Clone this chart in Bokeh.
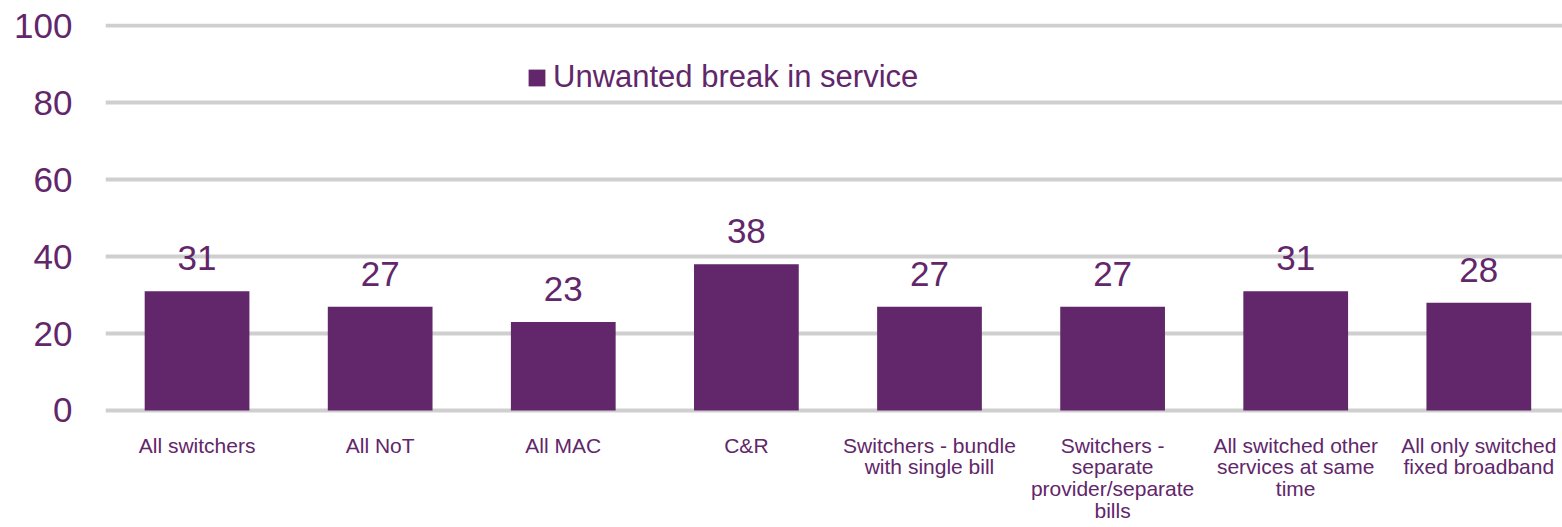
from bokeh.plotting import figure
from bokeh.models import Range1d, FixedTicker, ColumnDataSource, LabelSet, Legend, LegendItem
from bokeh.core.properties import value
from bokeh.embed import file_html
from bokeh.resources import INLINE

categories = ["All switchers", "All NoT", "All MAC", "C&R",
              "Switchers - bundle\nwith single bill",
              "Switchers -\nseparate\nprovider/separate\nbills",
              "All switched other\nservices at same\ntime",
              "All only switched\nfixed broadband"]
values = [31, 27, 23, 38, 27, 27, 31, 28]
series_name = "Unwanted break in service"
y_ticks = [0, 20, 40, 60, 80, 100]

PURPLE = "#62266A"
FONT = "Liberation Sans"

xs = list(range(len(categories)))
src = ColumnDataSource(dict(x=xs, top=values, lab=[str(v) for v in values]))

p = figure(frame_width=1457, frame_height=390, output_backend="svg", toolbar_location=None,
           x_range=Range1d(-0.5, 7.457), y_range=Range1d(-0.8, 100.65),
           min_border_left=105, min_border_right=0, min_border_top=23,
           min_border_bottom=114)
p.outline_line_color = None
p.background_fill_color = "white"
p.border_fill_color = "white"

r = p.vbar(x="x", top="top", bottom=0, width=0.572, source=src,
           fill_color=PURPLE, line_color=None)

labels = LabelSet(x="x", y="top", text="lab", source=src, text_align="center",
                  text_baseline="alphabetic", y_offset=21,
                  text_font=value(FONT), text_font_size="35px", text_color=PURPLE)
p.add_layout(labels)

p.xgrid.grid_line_color = None
p.ygrid.grid_line_color = "#CFCFCF"
p.ygrid.grid_line_width = 4
p.ygrid.ticker = FixedTicker(ticks=y_ticks)

p.yaxis.ticker = FixedTicker(ticks=y_ticks)
p.yaxis.axis_line_color = None
p.yaxis.major_tick_line_color = None
p.yaxis.minor_tick_line_color = None
p.yaxis.major_tick_out = 0
p.yaxis.major_tick_in = 0
p.yaxis.major_label_standoff = 33
p.yaxis.major_label_text_font = FONT
p.yaxis.major_label_text_font_size = "35px"
p.yaxis.major_label_text_color = PURPLE

p.xaxis.ticker = FixedTicker(ticks=xs)
p.xaxis.major_label_overrides = {i: c for i, c in enumerate(categories)}
p.xaxis.axis_line_color = None
p.xaxis.major_tick_line_color = None
p.xaxis.minor_tick_line_color = None
p.xaxis.major_tick_out = 0
p.xaxis.major_tick_in = 0
p.xaxis.major_label_standoff = 20
p.xaxis.major_label_text_font = FONT
p.xaxis.major_label_text_font_size = "21px"
p.xaxis.major_label_text_color = PURPLE
p.xaxis.major_label_text_line_height = 0.95

legend = Legend(items=[LegendItem(label=series_name, renderers=[r])],
                location=(421, 318), orientation="horizontal",
                glyph_width=21, glyph_height=21, label_standoff=6,
                label_text_font=FONT, label_text_font_size="31px",
                label_text_color=PURPLE, border_line_color=None,
                background_fill_alpha=0, padding=0, margin=0, spacing=0)
p.add_layout(legend, "center")

open("out.html", "w").write(file_html(p, INLINE))
